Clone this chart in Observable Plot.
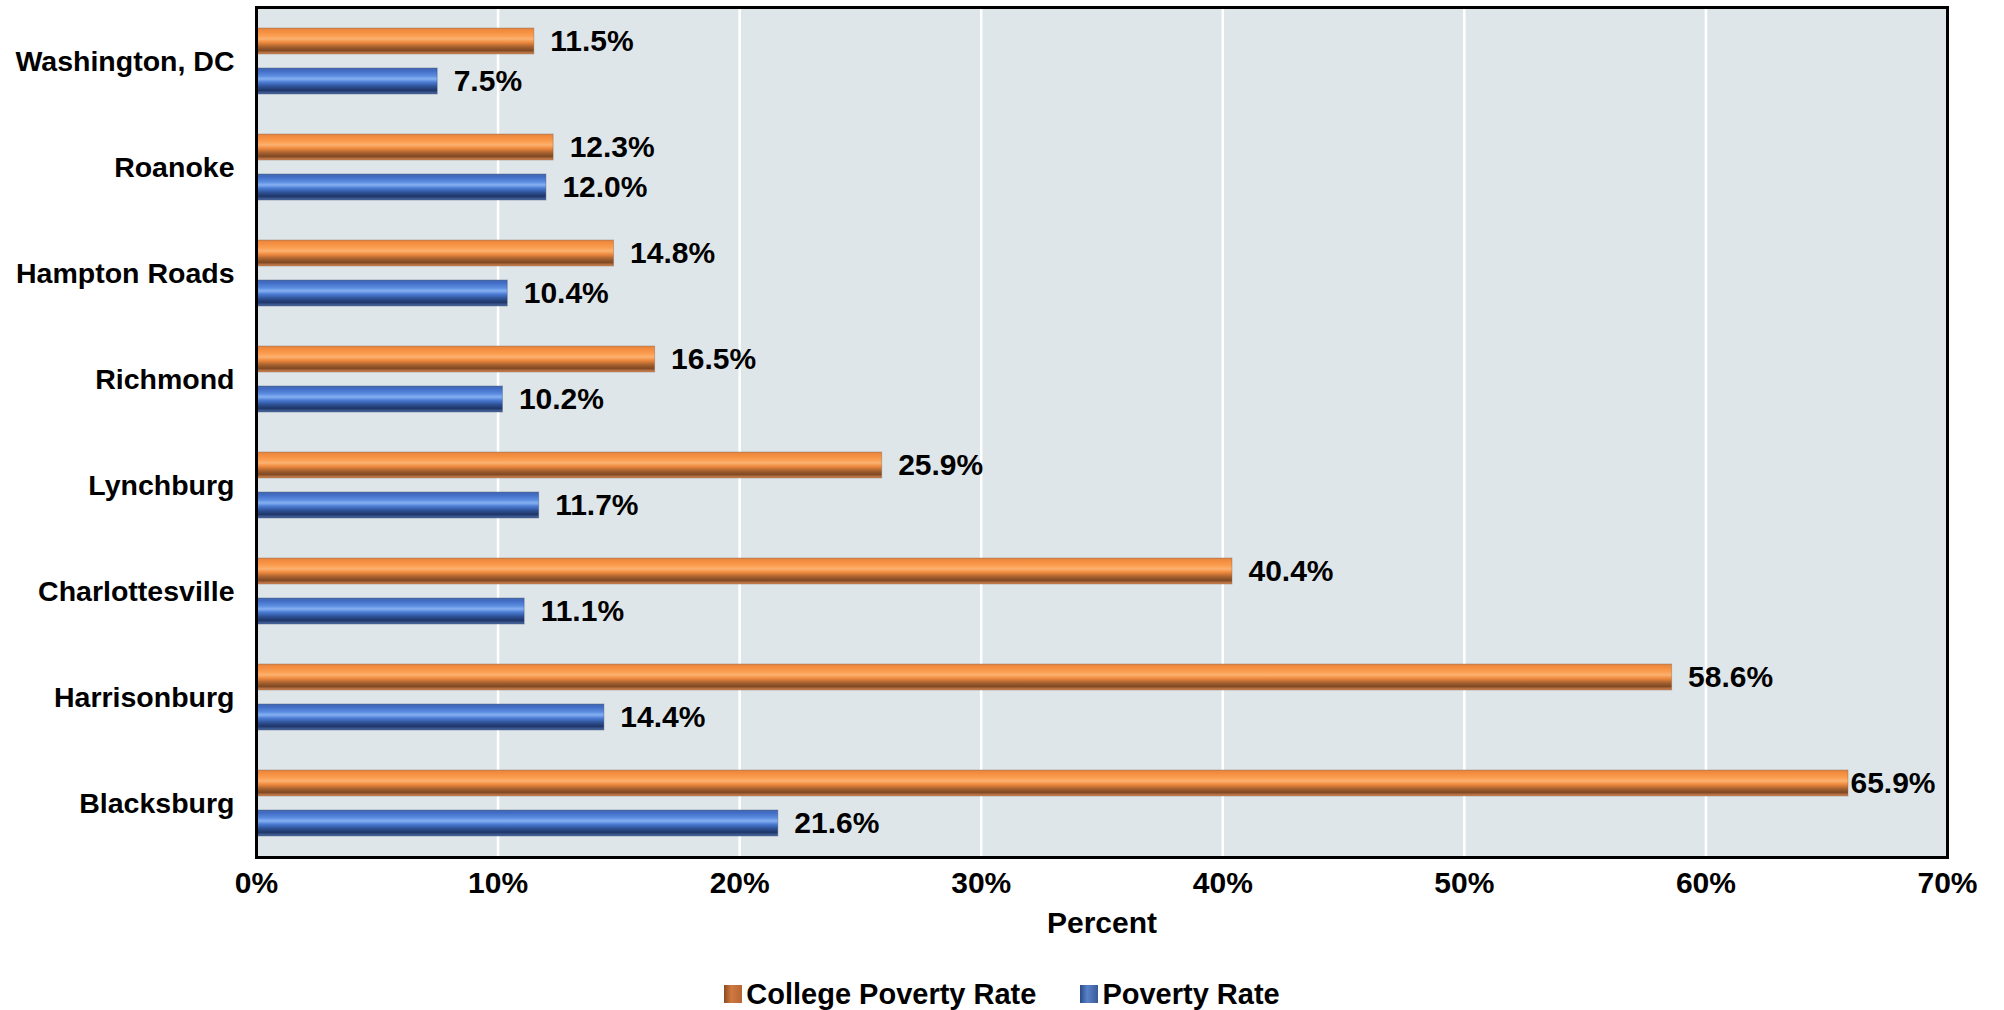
<!DOCTYPE html>
<html>
<head>
<meta charset="utf-8">
<script src="https://cdn.jsdelivr.net/npm/d3@7"></script>
<script src="https://cdn.jsdelivr.net/npm/@observablehq/plot@0.6"></script>
<style>
  body { margin: 0; background: #fff; font-family: "Liberation Sans", Arial, sans-serif; }
  #legend { display: flex; justify-content: center; gap: 44px; margin-top: 18px; line-height: 32px;
            font-size: 29px; font-weight: bold; color: #000; }
  #legend .item { display: flex; align-items: center; gap: 4px; }
  #legend .sw { width: 18px; height: 18px; display: inline-block; }
</style>
</head>
<body>
<div id="chart"></div>
<div id="legend"></div>
<script>
const cities = ["Washington, DC", "Roanoke", "Hampton Roads", "Richmond", "Lynchburg", "Charlottesville", "Harrisonburg", "Blacksburg"];
const collegePovertyRate = [11.5, 12.3, 14.8, 16.5, 25.9, 40.4, 58.6, 65.9];
const povertyRate = [7.5, 12.0, 10.4, 10.2, 11.7, 11.1, 14.4, 21.6];
const xTicks = [0, 10, 20, 30, 40, 50, 60, 70];
const seriesNames = ["College Poverty Rate", "Poverty Rate"];

const rows = cities.map((c, i) => ({city: c, college: collegePovertyRate[i], poverty: povertyRate[i]}));
const fmt = v => v.toFixed(1) + "%";
const labelStyle = {fontSize: 30, fontWeight: "bold", fill: "#000", textAnchor: "start"};

const plot = Plot.plot({
  width: 2004,
  height: 960,
  marginLeft: 256,
  marginRight: 57,
  marginTop: 7,
  marginBottom: 103,
  style: {fontFamily: "'Liberation Sans', Arial, sans-serif", color: "#000", background: "transparent"},
  x: {domain: [0, 70]},
  y: {domain: cities, padding: 0},
  marks: [
    Plot.frame({fill: "#dfe6e9"}),
    Plot.gridX(xTicks, {stroke: "#fff", strokeOpacity: 1, strokeWidth: 2.5}),
    Plot.barX(rows, {x: "college", y: "city", insetTop: 20, insetBottom: 60, fill: "url(#gOrange)", stroke: "#7a5030", strokeOpacity: 0.35, strokeWidth: 1}),
    Plot.barX(rows, {x: "poverty", y: "city", insetTop: 60, insetBottom: 20, fill: "url(#gBlue)", stroke: "#2a3a60", strokeOpacity: 0.35, strokeWidth: 1}),
    Plot.text(rows.filter(d => d.college < 60), {x: "college", y: "city", text: d => fmt(d.college), dx: 16, dy: -20.5, ...labelStyle}),
    Plot.text(rows.filter(d => d.college >= 60), {x: "college", y: "city", text: d => fmt(d.college), dx: 2, dy: -20.5, ...labelStyle}),
    Plot.text(rows, {x: "poverty", y: "city", text: d => fmt(d.poverty), dx: 16, dy: 19.5, ...labelStyle}),
    Plot.axisX({ticks: xTicks, tickFormat: d => d + "%", tickSize: 0, tickPadding: 14, fontSize: 30, fontWeight: "bold",
                label: "Percent", labelAnchor: "center", labelArrow: "none", labelOffset: 75}),
    Plot.axisY({tickSize: 0, tickPadding: 22, fontSize: 28.5, fontWeight: "bold", label: null}),
    Plot.frame({stroke: "#000", strokeWidth: 3})
  ]
});

// gradient definitions for the bevelled bars
const defs = d3.select(plot).insert("defs", ":first-child");
function grad(id, stops) {
  const g = defs.append("linearGradient").attr("id", id).attr("x1", 0).attr("y1", 0).attr("x2", 0).attr("y2", 1);
  stops.forEach(([o, c]) => g.append("stop").attr("offset", o).attr("stop-color", c));
}
grad("gOrange", [[0, "#d9884f"], [0.08, "#f2893c"], [0.3, "#fb9e50"], [0.42, "#fcb272"], [0.55, "#ef8a3e"], [0.72, "#a8612f"], [0.86, "#7e4822"], [1, "#d98a58"]]);
grad("gBlue", [[0, "#4d6fae"], [0.08, "#3f68c0"], [0.3, "#5a8ce0"], [0.42, "#86b0f2"], [0.55, "#4a7bd2"], [0.72, "#2d4f92"], [0.86, "#1f3568"], [1, "#4f6fa8"]]);

document.getElementById("chart").appendChild(plot);

const legend = d3.select("#legend");
const swatchCss = ["linear-gradient(90deg,#8a4a22,#d07a40 40%,#b86535)", "linear-gradient(90deg,#2a4a88,#5a82c8 40%,#3a5a98)"];
seriesNames.forEach((name, i) => {
  const it = legend.append("div").attr("class", "item");
  it.append("span").attr("class", "sw").style("background", swatchCss[i]);
  it.append("span").text(name);
});
</script>
</body>
</html>
